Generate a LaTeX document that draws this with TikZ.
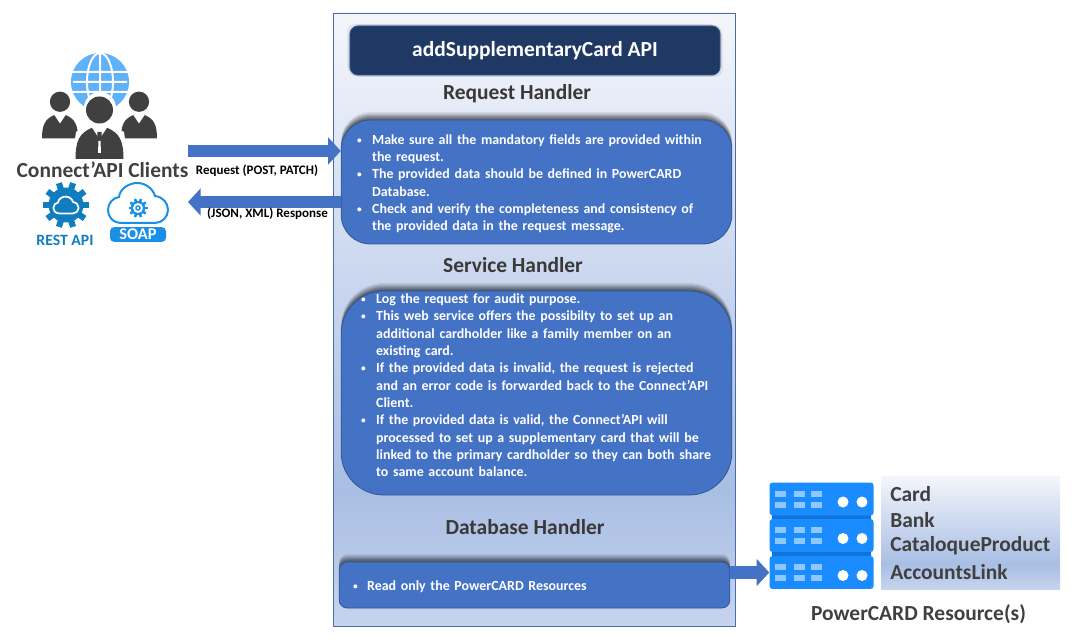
\documentclass[tikz,border=0pt]{standalone}
\usepackage{fontspec}
\setmainfont{Carlito}
\usetikzlibrary{arrows.meta,shadows}

\definecolor{navyfill}{HTML}{1F3864}
\definecolor{boxblue}{HTML}{4472C4}
\definecolor{boxedge}{HTML}{2F5597}
\definecolor{panelline}{HTML}{4A6CA8}
\definecolor{inkgray}{HTML}{3B3838}
\definecolor{peoplegray}{HTML}{404040}
\definecolor{globeblue}{HTML}{5FB2F7}
\definecolor{gearblue}{HTML}{0F7DBE}
\definecolor{soapblue}{HTML}{1A8FE6}
\definecolor{serverblue}{HTML}{1A8CFF}
\definecolor{serverdark}{HTML}{0F74DC}
\definecolor{serverlight}{HTML}{8FC8FF}

% bottom to top: light foot, deepest band, then up to nearly white
\definecolor{fadeA}{HTML}{C6D4EE}
\definecolor{fadeB}{HTML}{A9BEE4}
\definecolor{fadeC}{HTML}{F4F6FB}
\pgfdeclareverticalshading{panelfade}{100bp}{
  color(0bp)=(fadeA);
  color(25bp)=(fadeA);
  color(36bp)=(fadeB);
  color(75bp)=(fadeC);
  color(100bp)=(fadeC)
}

\newcommand{\rowbreak}{\hfil\break}
\newcommand{\bulletrow}[2]{\par\hangindent=#1\hangafter=1\noindent\makebox[#1][l]{\hspace*{1.5pt}\fontsize{7}{7}\selectfont\raisebox{.8pt}{\textbullet}}#2\par}

% cloud outline, centred on the current origin
\newcommand{\cloudoutline}{(-16,20) .. controls (-26,20) and (-30,13) .. (-30,7) .. controls (-30,0) and (-25,-5) .. (-19,-6) .. controls (-18,-15) and (-8,-20) .. (-1,-20) .. controls (8,-20) and (15,-14) .. (17,-7) .. controls (25,-6) and (30,0) .. (30,7) .. controls (30,14) and (24,20) .. (17,20) -- cycle}

% gear: #1 outer radius, #2 colour
\newcommand{\gearicon}[2]{
  \fill[#2] (0,0) circle ({#1*0.76});
  \foreach \a in {0,36,...,144}
    \draw[#2,line width={#1*0.2pt}] (\a:#1) -- (\a+180:#1);
}

% one person around (0,0) = neck
\newcommand{\personicon}{
  \fill[peoplegray] (0,-19) circle (13.5);
  \fill[peoplegray] (-24,30) .. controls (-24,12) and (-20,4) .. (-8,-1) -- (8,-1) .. controls (20,4) and (24,12) .. (24,30) -- cycle;
  \fill[white] (-8,-2) -- (0,10) -- (8,-2) -- cycle;
}
\newcommand{\tieicon}{
  \fill[peoplegray] (-2,3) -- (2,3) -- (3,24) -- (-3,24) -- cycle;
  \fill[white] (-1,12) -- (1,12) -- (1.5,24) -- (-1.5,24) -- cycle;
}

\tikzset{
  panelbox/.style = {shading=panelfade, draw=panelline, line width=.6pt, inner sep=0pt},
  softshadow/.style = {
    drop shadow={shadow xshift=0pt,shadow yshift=1pt,opacity=.16,fill=black},
    drop shadow={shadow xshift=0pt,shadow yshift=2pt,opacity=.16,fill=black},
    drop shadow={shadow xshift=0pt,shadow yshift=3pt,opacity=.14,fill=black},
    drop shadow={shadow xshift=0pt,shadow yshift=4pt,opacity=.12,fill=black},
    drop shadow={shadow xshift=0pt,shadow yshift=5pt,opacity=.1,fill=black},
    drop shadow={shadow xshift=0pt,shadow yshift=6pt,opacity=.07,fill=black}
  },
  titleshadow/.style = {
    drop shadow={shadow xshift=-1pt,shadow yshift=-1pt,opacity=.12,fill=black},
    drop shadow={shadow xshift=1pt,shadow yshift=1pt,opacity=.12,fill=black},
    drop shadow={shadow xshift=-2pt,shadow yshift=1.5pt,opacity=.08,fill=black},
    drop shadow={shadow xshift=2pt,shadow yshift=-1.5pt,opacity=.08,fill=black}
  },
  handlerbox/.style = {softshadow, fill=boxblue, draw=boxedge, line width=.6pt, text=white, align=left,
    font=\bfseries\fontsize{10.45}{13}\selectfont},
  heading/.style = {text=inkgray, inner sep=0pt, font=\bfseries\fontsize{16.1}{18}\selectfont},
  bigcaption/.style = {text=peoplegray, inner sep=0pt, font=\bfseries\fontsize{16.1}{18}\selectfont},
  smallcaption/.style = {text=black, inner sep=0pt, font=\bfseries\fontsize{9.75}{12}\selectfont},
  blockarrow/.style = {-{Triangle[length=9.5pt,width=20pt]}, boxblue},
  serverbox/.style = {fill=serverblue, rounded corners=2pt, minimum width=78pt, minimum height=24.5pt, inner sep=0pt}
}

\begin{document}
\begin{tikzpicture}[x=.75pt,y=-.75pt]
  \useasboundingbox (0,0) rectangle (1085,641);

  % centre panel and its boxes
  \node[panelbox, minimum width=301.5pt, minimum height=459.75pt] (panel) at (534,319.5) {};
  \node[titleshadow, fill=navyfill, draw=boxedge, line width=.6pt, rounded corners=6pt, minimum width=277.5pt, minimum height=36.75pt,
    inner sep=0pt, text=white, font=\bfseries\fontsize{16.1}{18}\selectfont] (titlebox) at (535,50.5) {addSupplementaryCard API};

  \node[heading] (reqhead) at (517,94) {Request Handler};
  \node[handlerbox, rounded corners=22pt, inner xsep=10.5pt, inner ysep=0pt, text width=272pt, minimum height=93pt] (reqbox) at (536.5,182) {%
    \vspace{-3pt}%
    \bulletrow{12.75pt}{Make sure all the mandatory fields are provided within\rowbreak the request.}%
    \bulletrow{12.75pt}{The provided data should be defined in PowerCARD\rowbreak Database.}%
    \bulletrow{12.75pt}{Check and verify the completeness and consistency of\rowbreak the provided data in the request message.}};

  \node[heading] (svchead) at (513,265) {Service Handler};
  \node[handlerbox, rounded corners=32pt, inner xsep=13.5pt, inner ysep=0pt, text width=266pt, minimum height=153pt] (svcbox) at (536.5,393) {%
    \vspace{-17.25pt}%
    \bulletrow{12.75pt}{Log the request for audit purpose.}%
    \bulletrow{12.75pt}{This web service offers the possibilty to set up an\rowbreak additional cardholder like a family member on an\rowbreak existing card.}%
    \bulletrow{12.75pt}{If the provided data is invalid, the request is rejected\rowbreak and an error code is forwarded back to the Connect’API\rowbreak Client.}%
    \bulletrow{12.75pt}{If the provided data is valid, the Connect’API will\rowbreak processed to set up a supplementary card that will be\rowbreak linked to the primary cardholder so they can both share\rowbreak to same account balance.}};

  \node[heading] (dbhead) at (525,527) {Database Handler};
  \node[handlerbox, rounded corners=6pt, inner xsep=9pt, inner ysep=0pt, text width=275pt, minimum height=34.5pt] (dbbox) at (534.5,585) {%
    \vspace{-3pt}%
    \bulletrow{12pt}{Read only the PowerCARD Resources}};

  % clients side
  \begin{scope}[shift={(100,82)}]
    \fill[globeblue] (0,0) circle (29);
    \draw[white,line width=1.5pt] (0,0) ellipse (13 and 29) (-29,-10) -- (29,-10) (-29,10) -- (29,10) (0,-29) -- (0,29) (-27,0) -- (27,0);
  \end{scope}
  \begin{scope}[shift={(60,116)},scale=.75]
    \personicon
  \end{scope}
  \begin{scope}[shift={(139,116)},scale=.75]
    \personicon
  \end{scope}
  \fill[white] (100,108) circle (16) (72,161) -- (76,132) -- (90,124) -- (110,124) -- (124,132) -- (128,161) -- cycle;
  \begin{scope}[shift={(99.5,129)}]
    \personicon
    \tieicon
  \end{scope}
  \node[bigcaption] (clients) at (102.5,170) {Connect’API Clients};
  \begin{scope}[shift={(66,205)}]
    \gearicon{23}{gearblue}
    \draw[white,line width=1.3pt,scale=.42] \cloudoutline;
  \end{scope}
  \node[text=gearblue, inner sep=0pt, font=\bfseries\fontsize{11.8}{13}\selectfont] (restlabel) at (65,240) {REST API};
  \begin{scope}[shift={(138,203)}]
    \draw[soapblue,line width=1.5pt] \cloudoutline;
    \begin{scope}[shift={(0,5)}]
      \gearicon{9.5}{soapblue}
      \fill[white] (0,0) circle (5);
      \fill[soapblue] (0,0) circle (2.8);
      \fill[white] (0,0) circle (1.4);
    \end{scope}
  \end{scope}
  \node[fill=soapblue, rounded corners=3pt, minimum width=42pt, minimum height=11pt, inner sep=0pt, text=white,
    font=\bfseries\fontsize{12.3}{12}\selectfont] (soaplabel) at (138,234.5) {SOAP};

  \coordinate (clientsout) at (188,151);
  \coordinate (clientsin) at (188,202);
  \draw[blockarrow,line width=9.5pt] (clientsout) -- (reqbox.west |- clientsout);
  \draw[blockarrow,line width=8.5pt] (reqbox.west |- clientsin) -- (clientsin);
  \node[smallcaption] (reqlabel) at (257,171) {Request (POST, PATCH)};
  \node[smallcaption] (resplabel) at (267.5,214) {(JSON, XML) Response};

  % resources side
  \node[panelbox, draw=none, minimum width=134.25pt, minimum height=84.75pt] (respanel) at (970.5,532.5) {};
  \fill[serverdark] (772,514) rectangle (871,521) (772,551) rectangle (871,558);
  \node[serverbox] (servera) at (821.5,499) {};
  \node[serverbox] (serverb) at (821.5,535.5) {};
  \node[serverbox] (serverc) at (821.5,572.5) {};
  \foreach \row in {servera,serverb,serverc} {
    \begin{scope}[shift={(\row.center)}]
      \foreach \col in {-46.5,-27.5,-10.5} {
        \fill[serverlight] (\col,-8.5) rectangle ++(11,6);
        \fill[serverlight] (\col,2.5) rectangle ++(11,6);
      }
      \fill[white] (21.5,3) circle (5.5) (40.5,3) circle (5.5);
    \end{scope}
  }
  \draw[blockarrow,line width=10pt] (dbbox.east |- serverc.west) -- (serverc.west);

  \node[bigcaption, anchor=west] (rescard) at (890,494) {Card};
  \node[bigcaption, anchor=west] (resbank) at (890,520) {Bank};
  \node[bigcaption, anchor=west] (resprod) at (890,546) {CataloqueProduct};
  \node[bigcaption, anchor=west] (reslink) at (890,572) {AccountsLink};
  \node[bigcaption] (reslabel) at (918.5,614) {PowerCARD Resource(s)};
\end{tikzpicture}
\end{document}
